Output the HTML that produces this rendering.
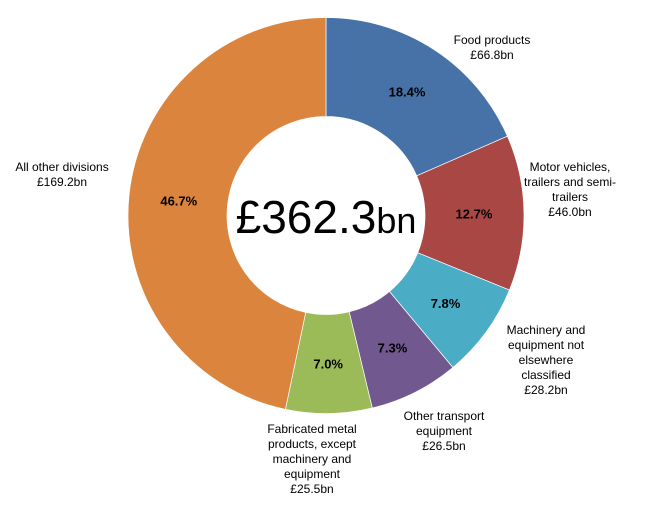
<!DOCTYPE html>
<html><head><meta charset="utf-8"><style>
body{margin:0;background:#fff;}
svg text{font-family:"Liberation Sans",Arial,sans-serif;}
</style></head><body>
<svg width="660" height="501" viewBox="0 0 660 501">
<g id="slices"></g>
<g id="pcts"></g>
<text x="326" y="233" text-anchor="middle" font-size="46">£362.3<tspan font-size="36">bn</tspan></text>
<g font-size="12" fill="#000" text-anchor="middle">
<text x="492" y="44"><tspan x="492">Food products</tspan><tspan x="492" dy="15">£66.8bn</tspan></text>
<text x="570" y="171"><tspan x="570">Motor vehicles,</tspan><tspan x="570" dy="15">trailers and semi-</tspan><tspan x="570" dy="15">trailers</tspan><tspan x="570" dy="15">£46.0bn</tspan></text>
<text x="546" y="334"><tspan x="546">Machinery and</tspan><tspan x="546" dy="15">equipment not</tspan><tspan x="546" dy="15">elsewhere</tspan><tspan x="546" dy="15">classified</tspan><tspan x="546" dy="15">£28.2bn</tspan></text>
<text x="444" y="420"><tspan x="444">Other transport</tspan><tspan x="444" dy="15">equipment</tspan><tspan x="444" dy="15">£26.5bn</tspan></text>
<text x="312" y="433"><tspan x="312">Fabricated metal</tspan><tspan x="312" dy="15">products, except</tspan><tspan x="312" dy="15">machinery and</tspan><tspan x="312" dy="15">equipment</tspan><tspan x="312" dy="15">£25.5bn</tspan></text>
<text x="62" y="171"><tspan x="62">All other divisions</tspan><tspan x="62" dy="15">£169.2bn</tspan></text>
</g>
</svg>
<script>
const categories=["Food products","Motor vehicles","Machinery","Other transport","Fabricated metal","All other divisions"];
const values=[66.8,46.0,28.2,26.5,25.5,169.2];
const pctLabels=["18.4%","12.7%","7.8%","7.3%","7.0%","46.7%"];
const colors=["#4672A8","#A94745","#4BACC6","#71588F","#9BBB59","#DB843D"];
const cx=326,cy=215.5,R=198,r=99,ns="http://www.w3.org/2000/svg";
const total=values.reduce((a,b)=>a+b,0);
function pt(a,rad){return [cx+rad*Math.sin(a),cy-rad*Math.cos(a)];}
let a0=0;
const g=document.getElementById('slices'),pg=document.getElementById('pcts');
values.forEach((v,i)=>{
 const a1=a0+v/total*2*Math.PI,lg=(a1-a0)>Math.PI?1:0;
 const [x1,y1]=pt(a0,R),[x2,y2]=pt(a1,R),[x3,y3]=pt(a1,r),[x4,y4]=pt(a0,r);
 const p=document.createElementNS(ns,'path');
 p.setAttribute('d',`M${x1},${y1}A${R},${R} 0 ${lg} 1 ${x2},${y2}L${x3},${y3}A${r},${r} 0 ${lg} 0 ${x4},${y4}Z`);
 p.setAttribute('fill',colors[i]);p.setAttribute('stroke','#fff');p.setAttribute('stroke-width','0.7');
 
 
 g.appendChild(p);
 const [tx,ty]=pt((a0+a1)/2,148);
 const t=document.createElementNS(ns,'text');
 t.setAttribute('x',tx);t.setAttribute('y',ty+5);t.setAttribute('text-anchor','middle');
 t.setAttribute('font-size','13');t.setAttribute('font-weight','bold');
 t.textContent=pctLabels[i];
 
 
 pg.appendChild(t);
 a0=a1;
});
</script>
</body></html>
